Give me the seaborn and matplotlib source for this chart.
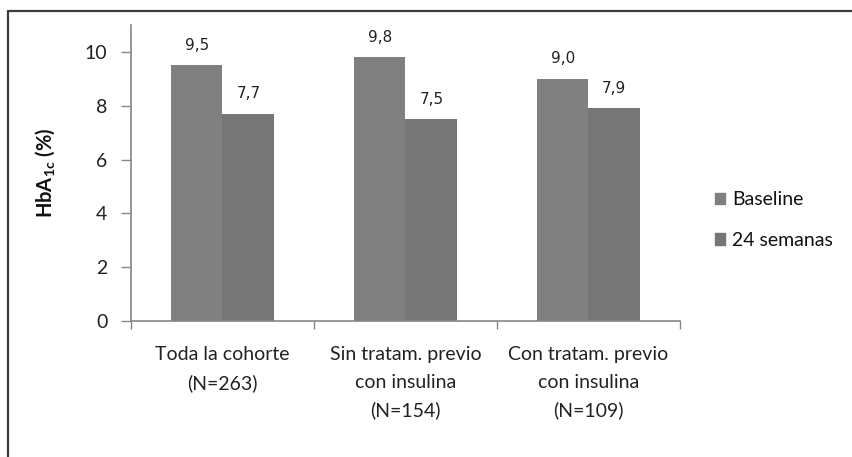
import matplotlib
matplotlib.use("Agg")
import matplotlib.pyplot as plt
from matplotlib.lines import Line2D
from matplotlib.ticker import FixedLocator
import seaborn as sns
import pandas as pd

# HbA1c at baseline and after 24 weeks, per cohort
categories = ["Toda la cohorte\n(N=263)",
              "Sin tratam. previo\ncon insulina\n(N=154)",
              "Con tratam. previo\ncon insulina\n(N=109)"]
periods = ["Baseline", "24 semanas"]
baseline = [9.5, 9.8, 9.0]
semana24 = [7.7, 7.5, 7.9]
yticks = [0, 2, 4, 6, 8, 10]

df = pd.DataFrame({
    "grupo": categories * 2,
    "periodo": [periods[0]] * 3 + [periods[1]] * 3,
    "hba1c": baseline + semana24,
})

sns.set_theme(style="white")
plt.rcParams["font.family"] = ["Lato", "DejaVu Sans"]
plt.rcParams["mathtext.fontset"] = "custom"
plt.rcParams["mathtext.rm"] = "Lato"
plt.rcParams["mathtext.bf"] = "Lato:bold"

fig = plt.figure(figsize=(8.53, 4.57), dpi=100)
ax = fig.add_axes([131 / 853, 1 - 321 / 457, (680 - 131) / 853, (321 - 25) / 457])

palette = {"Baseline": "#808080", "24 semanas": "#767676"}
sns.barplot(data=df, x="grupo", y="hba1c", hue="periodo", hue_order=periods,
            palette=palette, width=0.565, gap=0, linewidth=0, saturation=1,
            ax=ax, legend=False)

for cont in ax.containers:
    ax.bar_label(cont, labels=[f"{v:.1f}".replace(".", ",") for v in cont.datavalues],
                 padding=9, fontsize=11, family="DejaVu Sans", color="#222222")

ax.set_xlim(-0.5, 2.5)
ax.set_ylim(0, 11)
ax.set_yticks(yticks)
ax.set_yticklabels([str(t) for t in yticks])
ax.tick_params(axis="y", direction="out", length=7, width=1, color="#868686",
               labelsize=14, pad=10, left=True, labelcolor="#222222")
ax.xaxis.set_minor_locator(FixedLocator([-0.5, 0.5, 1.5, 2.5]))
ax.tick_params(axis="x", which="minor", direction="out", length=6, width=1,
               color="#868686", bottom=True)
ax.tick_params(axis="x", which="major", length=0, labelsize=14, pad=18,
               labelcolor="#222222")
for lab in ax.get_xticklabels():
    lab.set_linespacing(1.75)
    lab.set_verticalalignment("top")

for side in ["top", "right"]:
    ax.spines[side].set_visible(False)
for side in ["left", "bottom"]:
    ax.spines[side].set_color("#868686")
    ax.spines[side].set_linewidth(1.2)

ax.set_xlabel("")
ax.set_ylabel(r"HbA$_{\mathbf{1c}}$ (%)", fontsize=14.5, fontweight="bold",
              color="#111111", labelpad=20)

handles = [plt.Rectangle((0, 0), 1, 1, color=palette[p]) for p in periods]
fig.legend(handles, periods, loc="center left",
           bbox_to_anchor=(697 / 853, 1 - 220 / 457), frameon=False,
           fontsize=14, handlelength=0.55, handleheight=0.55,
           handletextpad=0.35, labelspacing=1.2, labelcolor="#111111")

# frame lines around the chart area
fig.add_artist(Line2D([8 / 853, 1], [1 - 11 / 457, 1 - 11 / 457],
                      transform=fig.transFigure, color="#3c3c3c", linewidth=1.6))
fig.add_artist(Line2D([8 / 853, 8 / 853], [0, 1 - 11 / 457],
                      transform=fig.transFigure, color="#3c3c3c", linewidth=1.6))

fig.savefig("out.png", dpi=100)
